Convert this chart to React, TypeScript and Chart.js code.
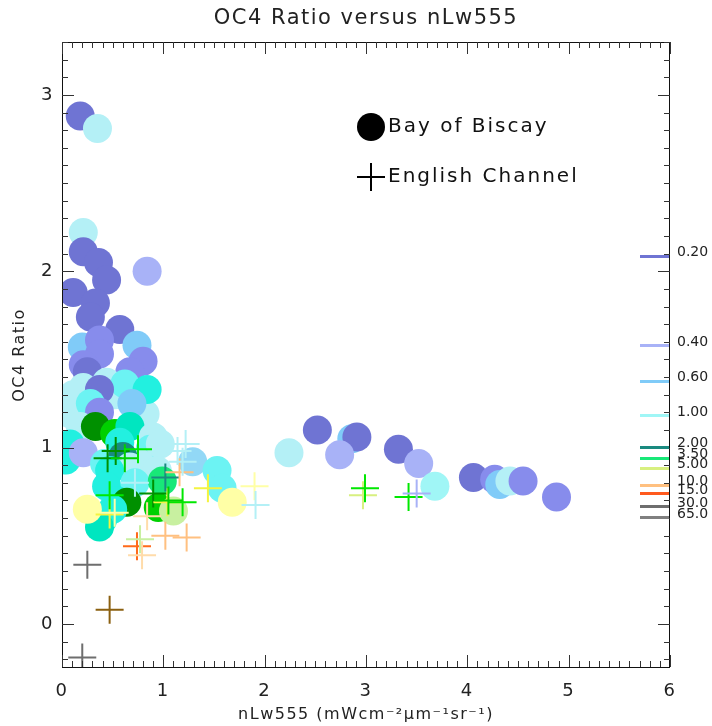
import React, { useEffect, useRef } from 'react';
import { Chart, registerables } from 'chart.js';

Chart.register(...registerables);

// Axis tick values
const xTicks = [0, 1, 2, 3, 4, 5, 6];
const yTicks = [0, 1, 2, 3];

// Chlorophyll classes and their colours
const chlLevels = [0.2, 0.3, 0.4, 0.6, 0.8, 0.9, 1.0, 1.2, 1.5, 1.7, 2.0, 2.5, 3.0, 3.5, 4.0, 5.0, 6.0, 7.0, 8.0, 10, 12, 15, 30, 50];
const chlColors = ['#6f74d3', '#878cec', '#a8b2f7', '#80cbf8', '#92d8f6', '#b4f0f6', '#a0f6f6', '#6cf3f3', '#22f0e0', '#00e6c0', '#1a8a80', '#009000', '#00d000', '#18e878', '#00e800', '#d8f080', '#c8f0a0', '#f4f440', '#ffffa6', '#ffc080', '#ffdcaa', '#ff6a1a', '#6e6e6e', '#8b6010'];

// Bay of Biscay (circles)
const biscayX = [0.18, 0.35, 0.21, 0.21, 0.36, 0.44, 0.11, 0.33, 0.28, 0.57, 0.84, 0.20, 0.37, 0.37, 0.74, 0.80, 0.67, 0.21, 0.25, 0.21, 0.44, 0.11, 0.52, 0.62, 0.08, 0.82, 0.84, 0.37, 0.69, 0.28, 0.37, 0.18, 0.33, 0.52, 0.67, 0.57, 0.90, 0.87, 0.97, 0.08, 0.04, 0.21, 0.42, 0.77, 0.60, 0.67, 0.47, 0.94, 0.44, 0.72, 0.99, 0.54, 0.64, 0.50, 0.40, 0.37, 0.25, 0.95, 1.10, 1.29, 1.53, 1.58, 1.68, 2.24, 2.52, 2.86, 2.91, 2.74, 3.32, 3.52, 3.68, 4.06, 4.27, 4.32, 4.42, 4.55, 4.88];
const biscayY = [2.88, 2.81, 2.22, 2.11, 2.05, 1.95, 1.88, 1.82, 1.74, 1.67, 2.00, 1.57, 1.61, 1.53, 1.58, 1.49, 1.43, 1.47, 1.43, 1.34, 1.37, 1.30, 1.30, 1.36, 1.19, 1.19, 1.33, 1.33, 1.25, 1.25, 1.20, 1.12, 1.12, 1.08, 1.12, 1.03, 1.06, 0.99, 1.02, 1.02, 0.93, 0.97, 0.91, 0.91, 0.95, 0.89, 0.87, 0.87, 0.78, 0.80, 0.81, 0.70, 0.69, 0.65, 0.59, 0.55, 0.65, 0.66, 0.64, 0.92, 0.87, 0.77, 0.69, 0.97, 1.10, 1.05, 1.06, 0.96, 0.99, 0.91, 0.78, 0.83, 0.82, 0.79, 0.81, 0.81, 0.72];
const biscayChl = [0.2, 0.9, 0.9, 0.2, 0.2, 0.2, 0.2, 0.2, 0.2, 0.2, 0.4, 0.6, 0.3, 0.3, 0.6, 0.3, 0.3, 0.3, 0.2, 0.9, 0.9, 0.9, 0.9, 1.2, 0.9, 0.9, 1.5, 0.2, 0.6, 1.2, 0.3, 0.9, 2.5, 3.0, 1.7, 1.5, 0.9, 1.2, 0.9, 1.5, 1.5, 0.4, 1.2, 0.9, 2.0, 0.9, 1.5, 0.9, 1.5, 1.2, 3.5, 1.5, 2.5, 1.5, 1.5, 1.7, 8.0, 3.0, 6.0, 0.8, 1.2, 1.2, 8.0, 0.9, 0.2, 0.6, 0.2, 0.4, 0.2, 0.4, 1.0, 0.2, 0.3, 0.6, 0.9, 0.3, 0.3];

// English Channel (crosses)
const channelX = [0.25, 0.47, 0.20, 0.74, 0.77, 0.79, 1.02, 1.23, 0.84, 0.47, 0.52, 0.47, 0.90, 1.04, 1.19, 1.05, 0.72, 1.02, 0.45, 0.53, 0.62, 0.75, 1.16, 1.14, 1.22, 1.19, 1.44, 1.90, 1.91, 2.97, 2.99, 3.42, 3.50];
const channelY = [0.335, 0.08, -0.19, 0.44, 0.48, 0.39, 0.50, 0.49, 0.61, 0.62, 0.63, 0.73, 0.74, 0.69, 0.69, 0.70, 0.80, 0.83, 0.94, 0.98, 0.94, 0.99, 0.86, 0.98, 1.02, 0.92, 0.77, 0.78, 0.675, 0.73, 0.77, 0.72, 0.74];
const channelChl = [30, 50, 30, 15, 6.0, 12, 10, 10, 12, 7.0, 8.0, 4.0, 2.5, 7.0, 4.0, 3.0, 0.9, 2.0, 2.5, 2.5, 3.0, 4.0, 10, 0.9, 0.9, 0.9, 7.0, 8.0, 0.9, 5.0, 4.0, 4.0, 0.4];

// Colour key on the right-hand side
const keyLabels = ['0.20', '0.40', '0.60', '1.00', '2.00', '3.50', '5.00', '10.0', '15.0', '30.0', '65.0'];
const keyPositions = [2.089, 1.58, 1.38, 1.185, 1.006, 0.943, 0.887, 0.789, 0.741, 0.669, 0.605];
const keyColors = ['#6f74d3', '#a8b2f7', '#80cbf8', '#a0f6f6', '#1a8a80', '#18e878', '#d8f080', '#ffc080', '#ff5a1e', '#6e6e6e', '#808080'];

const colorFor = (c: number) => chlColors[chlLevels.indexOf(c)];

const FONT = 'DejaVu Sans';

const framePlugin = {
  id: 'frame',
  beforeDraw(chart: any) {
    chart.ctx.letterSpacing = '1.5px';
  },
  afterDraw(chart: any) {
    const { ctx, chartArea: a, scales } = chart;
    const xs = scales.x;
    const ys = scales.y;
    ctx.save();
    ctx.letterSpacing = '0px';
    ctx.globalAlpha = 1;
    ctx.globalCompositeOperation = 'source-over';
    const box = (x: number, y: number, w: number, h: number, color: string) => {
      ctx.fillStyle = color;
      ctx.fillRect(x, y, w, h);
    };
    const L = Math.round(a.left);
    const R = Math.round(a.right) - 1;
    const T = Math.round(a.top);
    const B = Math.round(a.bottom) - 1;
    box(L, T, R - L + 1, 1, '#111');
    box(L, B, R - L + 1, 1, '#111');
    box(L, T, 1, B - T + 1, '#111');
    box(R, T, 1, B - T + 1, '#111');
    for (let i = 0; i <= 60; i++) {
      const px = Math.round(xs.getPixelForValue(i / 10));
      const len = i % 10 === 0 ? 12 : 6;
      box(px, B - len, 1, len, '#333');
      box(px, T, 1, len, '#333');
    }
    for (let i = -2; i <= 33; i++) {
      const py = Math.round(ys.getPixelForValue(i / 10));
      const len = i % 10 === 0 ? 12 : 6;
      box(L, py, len, 1, '#333');
      box(R - len + 1, py, len, 1, '#333');
    }
    // colour key
    keyLabels.forEach((lab, i) => {
      const py = Math.round(ys.getPixelForValue(keyPositions[i]));
      box(a.right - 30, py - 1, 29, 3, keyColors[i]);
    });
    ctx.font = `14px ${FONT}`;
    ctx.fillStyle = '#222';
    ctx.textAlign = 'left';
    ctx.textBaseline = 'middle';
    keyLabels.forEach((lab, i) => {
      const py = ys.getPixelForValue(keyPositions[i]);
      ctx.fillText(lab, a.right + 7, py - 3);
    });
    // marker legend
    ctx.fillStyle = '#000';
    ctx.beginPath();
    ctx.arc(371, 127, 14, 0, Math.PI * 2);
    ctx.fill();
    box(357, 176, 28, 2, '#000');
    box(370, 163, 2, 28, '#000');
    ctx.letterSpacing = '2px';
    ctx.font = `20px ${FONT}`;
    ctx.fillStyle = '#111';
    ctx.fillText('Bay of Biscay', 388, 127);
    ctx.fillText('English Channel', 388, 177);
    ctx.restore();
    ctx.letterSpacing = '0px';
  },
};

export default function App() {
  const ref = useRef<HTMLCanvasElement>(null);
  useEffect(() => {
    document.body.style.margin = '0';
    const chart = new Chart(ref.current as HTMLCanvasElement, {
      type: 'scatter',
      data: {
        datasets: [
          {
            label: 'Bay of Biscay',
            order: 2,
            data: biscayX.map((x, i) => ({ x, y: biscayY[i] })),
            pointStyle: 'circle',
            pointRadius: 14.5,
            pointBorderWidth: 0,
            pointBackgroundColor: biscayChl.map(colorFor),
            pointBorderColor: biscayChl.map(colorFor),
          },
          {
            label: 'English Channel',
            order: 1,
            data: channelX.map((x, i) => ({ x, y: channelY[i] })),
            pointStyle: 'cross',
            pointRadius: 14,
            pointBorderWidth: 2,
            pointBorderColor: channelChl.map(colorFor),
            pointBackgroundColor: channelChl.map(colorFor),
          },
        ],
      },
      options: {
        responsive: false,
        animation: false,
        devicePixelRatio: 1,
        layout: { padding: { left: 0, right: 42, top: 0, bottom: 0 } },
        plugins: {
          legend: { display: false },
          tooltip: { enabled: false },
          title: {
            display: true,
            text: 'OC4 Ratio versus nLw555',
            fullSize: false,
            color: '#222',
            font: { family: FONT, size: 21, weight: 'normal' },
            padding: { top: 6, bottom: 10.8 },
          },
        },
        scales: {
          x: {
            type: 'linear',
            position: 'bottom',
            min: 0,
            max: 6,
            grid: { display: false, drawTicks: false },
            border: { display: false },
            afterBuildTicks: (s: any) => {
              s.ticks = xTicks.map((v) => ({ value: v }));
            },
            afterFit: (s: any) => {
              s.height = 58;
            },
            ticks: {
              autoSkip: false,
              maxRotation: 0,
              padding: 13,
              color: '#222',
              font: { family: FONT, size: 18 },
              callback: (v: any) => String(v),
            },
            title: {
              display: true,
              text: 'nLw555 (mWcm⁻²μm⁻¹sr⁻¹)',
              color: '#222',
              font: { family: FONT, size: 16 },
              padding: { top: 0, bottom: 2 },
            },
          },
          y: {
            type: 'linear',
            position: 'left',
            min: -0.25,
            max: 3.3,
            grid: { display: false, drawTicks: false },
            border: { display: false },
            afterBuildTicks: (s: any) => {
              s.ticks = yTicks.map((v) => ({ value: v }));
            },
            afterFit: (s: any) => {
              s.width = 62;
            },
            ticks: {
              autoSkip: false,
              padding: 8,
              color: '#222',
              font: { family: FONT, size: 18 },
              callback: (v: any) => String(v),
            },
            title: {
              display: true,
              text: 'OC4 Ratio',
              color: '#222',
              font: { family: FONT, size: 16 },
              padding: { top: 10, bottom: 0 },
            },
          },
        },
      },
      plugins: [framePlugin],
    } as any);
    return () => chart.destroy();
  }, []);
  return (
    <div style={{ width: 712, height: 726 }}>
      <canvas ref={ref} width={712} height={726} style={{ display: 'block' }} />
    </div>
  );
}
